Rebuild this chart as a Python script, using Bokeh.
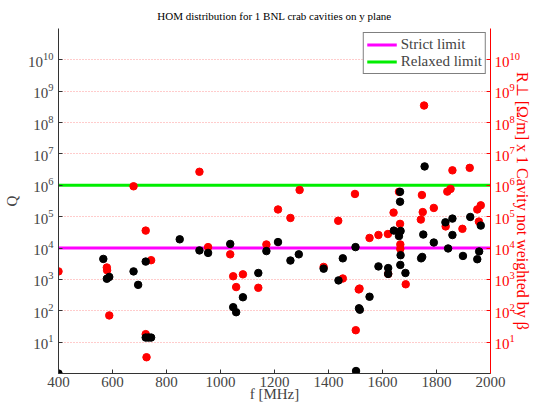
from bokeh.plotting import figure
from bokeh.models import (Range1d, LogAxis, FixedTicker, LogScale, Legend, LegendItem)
from bokeh.embed import file_html
from bokeh.resources import INLINE

# ---- data ----
q_freq = [400, 566, 579, 588, 678, 695, 723, 723, 733, 743,
          849, 922, 954, 1036, 1047, 1058, 1083, 1140, 1170, 1213,
          1259, 1290, 1382, 1437, 1453, 1500, 1502, 1513, 1516, 1552,
          1585, 1621, 1621, 1642, 1661, 1667, 1665, 1665, 1667, 1666,
          1685, 1743, 1747, 1751, 1756, 1790, 1833, 1843, 1859, 1859,
          1898, 1925, 1951, 1958, 1964]
q_values = [1.0, 4.5e3, 1.05e3, 1.2e3, 1.8e3, 670, 3.7e3, 14, 14, 14,
            1.9e4, 8.4e3, 7e3, 1.35e4, 130, 90, 270, 1.6e3, 8e3, 1.55e4,
            4e3, 6.3e3, 2.2e3, 930, 4.7e3, 1.07e4, 1.2, 120, 108, 280,
            2.6e3, 2.3e3, 1.5e3, 3.6e4, 2.4e4, 3.5e4, 6.2e5, 3e5, 5.9e3, 2.9e3,
            1.6e3, 4.7e3, 5.2e3, 2.7e4, 4e6, 1.5e4, 6.6e4, 9.7e3, 8.7e4, 2.6e4,
            5.6e3, 9.8e4, 4.4e3, 7.8e3, 5.2e4]

r_freq = [400, 579, 580, 588, 678, 723, 743, 723, 726, 922,
          954, 1036, 1047, 1058, 1083, 1140, 1170, 1213, 1259, 1293,
          1382, 1436, 1453, 1498, 1501, 1512, 1515, 1552, 1585, 1620,
          1621, 1641, 1661, 1665, 1666, 1666, 1686, 1742, 1746, 1749,
          1754, 1790, 1834, 1840, 1852, 1859, 1896, 1923, 1951, 1957,
          1964]
r_values = [1.8e3, 2.4e3, 1.95e3, 71, 9.3e5, 3.6e4, 4.1e3, 18, 3.3, 2.7e6,
            1.07e4, 6.3e3, 1.26e3, 570, 1.45e3, 540, 1.3e4, 1.7e5, 9.1e4, 7.1e5,
            2.5e3, 7.4e4, 1.07e3, 5.3e5, 24, 480, 510, 2.1e4, 2.6e4, 2.8e4,
            1.5e3, 1.35e5, 6.2e5, 5.9e4, 1.3e4, 9.4e3, 700, 8.1e4, 4.9e5, 1.4e5,
            3.5e8, 1.9e5, 4.9e4, 6.3e5, 7.7e5, 3e6, 4.1e4, 3.6e6, 1.7e5, 7e4,
            2.3e5]

limit_freq = [400, 2000]
strict_limit = [1e4, 1e4]
relaxed_limit = [1e6, 1e6]

x_ticks = [400, 600, 800, 1000, 1200, 1400, 1600, 1800, 2000]
y_ticks = [1e1, 1e2, 1e3, 1e4, 1e5, 1e6, 1e7, 1e8, 1e9, 1e10]

SERIF = "Liberation Serif"

p = figure(width=534, height=406, output_backend="svg", toolbar_location=None,
           y_axis_type="log",
           x_range=Range1d(400, 2000), y_range=Range1d(1, 1e11),
           min_border_left=55, min_border_right=44, min_border_top=28,
           min_border_bottom=33,
           title="HOM distribution for 1 BNL crab cavities on y plane")
p.outline_line_color = None
p.background_fill_color = "white"
p.border_fill_color = "white"

p.title.text_font = SERIF
p.title.text_font_size = "11px"
p.title.text_font_style = "normal"
p.title.align = "center"
p.title.text_color = "black"
p.title.standoff = 14

# right axis (same log range)
p.extra_y_ranges = {"r": Range1d(1, 1e11)}
p.extra_y_scales = {"r": LogScale()}
raxis = LogAxis(y_range_name="r")
p.add_layout(raxis, "right")

# axes styling
for ax in [p.xaxis[0], p.yaxis[0], raxis]:
    ax.major_tick_in = 4
    ax.major_tick_out = 0
    ax.minor_tick_in = 0
    ax.minor_tick_out = 0
    ax.major_label_text_font = SERIF
    ax.major_label_text_font_size = "15px"
    ax.axis_label_text_font = SERIF
    ax.axis_label_text_font_size = "15px"
    ax.axis_label_text_font_style = "normal"

p.xaxis[0].ticker = FixedTicker(ticks=x_ticks)
p.xaxis[0].axis_label = "f [MHz]"
p.xaxis[0].axis_line_color = "#333333"
p.xaxis[0].major_tick_line_color = "#333333"
p.xaxis[0].major_label_standoff = 3
p.xaxis[0].axis_label_standoff = -4

p.yaxis[0].ticker = FixedTicker(ticks=y_ticks)
p.yaxis[0].axis_label = "Q"
p.yaxis[0].axis_line_color = "#333333"
p.yaxis[0].major_tick_line_color = "#333333"
p.yaxis[0].major_label_standoff = 5

raxis.ticker = FixedTicker(ticks=y_ticks)
raxis.axis_line_color = "red"
raxis.major_tick_line_color = "red"
raxis.major_label_text_color = "red"
raxis.major_label_standoff = 4
raxis.axis_label = "R⊥ [Ω/m] x 1 Cavity not weighted by β"
raxis.axis_label_text_color = "red"
raxis.axis_label_text_font_size = "16px"
raxis.axis_label_standoff = -9

# grid
p.xgrid.visible = False
p.ygrid.ticker = FixedTicker(ticks=y_ticks)
p.ygrid.grid_line_color = "red"
p.ygrid.grid_line_alpha = 0.4
p.ygrid.grid_line_dash = "1 2"
p.ygrid.grid_line_width = 1

# limit lines
l1 = p.line(limit_freq, strict_limit, line_color="#ff00ff", line_width=3)
l2 = p.line(limit_freq, relaxed_limit, line_color="#00ee00", line_width=3)

# points
p.scatter(r_freq, r_values, size=7.5, fill_color="red", line_color="red")
p.scatter(q_freq, q_values, size=7.5, fill_color="black", line_color="black")

legend = Legend(items=[LegendItem(label="Strict limit", renderers=[l1]),
                       LegendItem(label="Relaxed limit", renderers=[l2])],
                location="top_right")
legend.label_text_font = SERIF
legend.label_text_font_size = "15px"
legend.border_line_color = "black"
legend.border_line_width = 1
legend.padding = 3
legend.spacing = 0
legend.margin = 4
legend.glyph_width = 30
legend.glyph_height = 17
legend.label_height = 17
legend.label_standoff = 4
legend.background_fill_alpha = 1
p.add_layout(legend, "center")

open("out.html", "w").write(file_html(p, INLINE))
